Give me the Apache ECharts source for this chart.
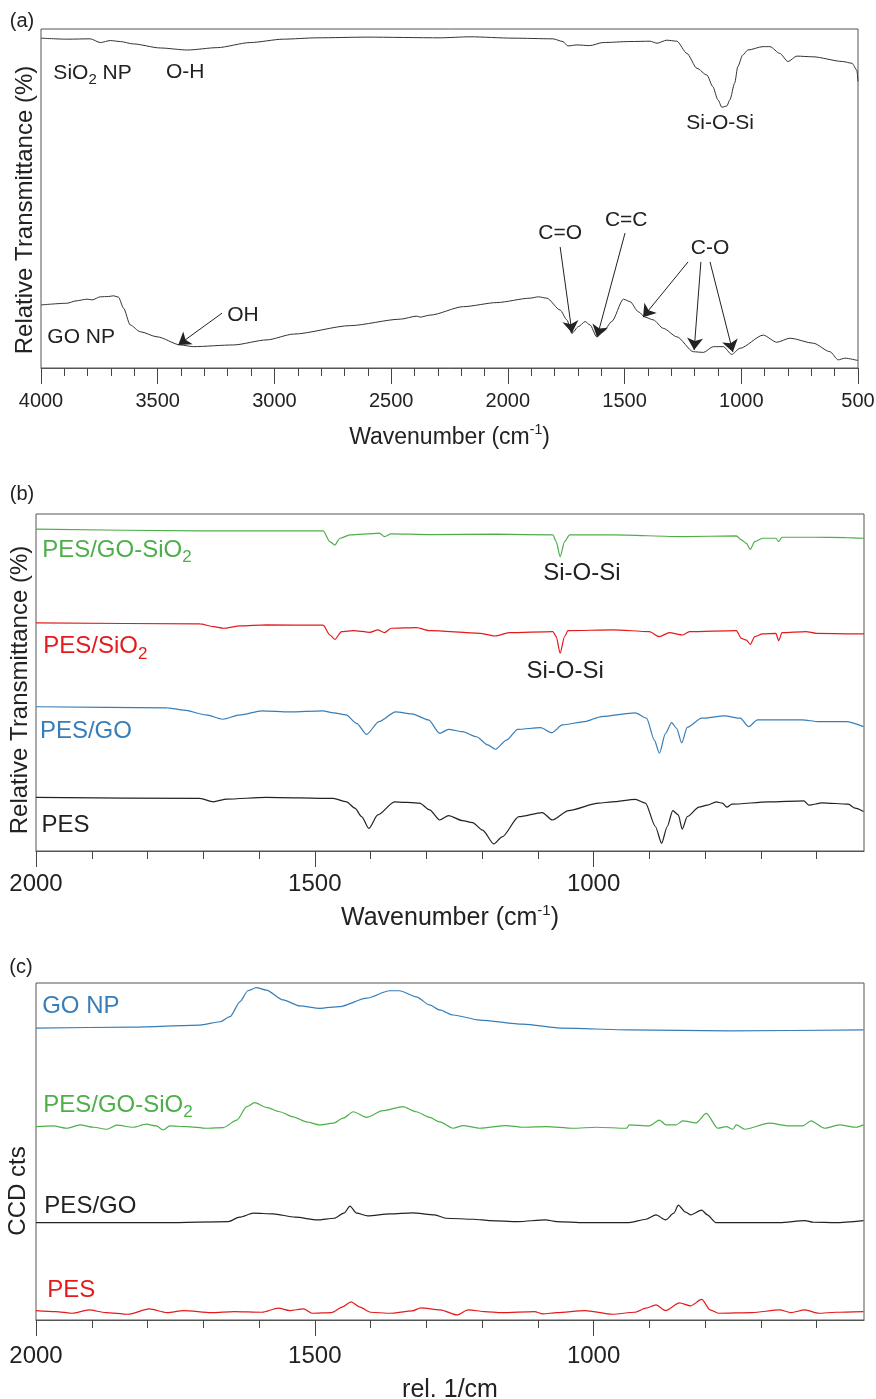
<!DOCTYPE html>
<html><head><meta charset="utf-8">
<script src="https://cdn.jsdelivr.net/npm/echarts@6/dist/echarts.min.js"></script>
<style>html,body{margin:0;padding:0;background:#fff}#c{width:876px;height:1399px}</style>
</head><body><div id="c"></div>
<script>
// ---------- Panel (a): FTIR of nanoparticles  [wavenumber, relative transmittance] ----------
const sio2NP_FTIR = [[4000,97.3],[3889,97.0],[3789,97.1],[3746,96.0],[3703,96.6],[3660,96.3],[3605,95.6],[3489,94.4],[3373,93.8],[3245,94.5],[3104,96.0],[2962,97.0],[2817,97.4],[2603,97.6],[2290,97.4],[2162,97.7],[1978,97.3],[1807,97.1],[1764,96.3],[1743,95.0],[1704,95.3],[1649,95.1],[1593,96.0],[1477,96.3],[1391,96.4],[1361,95.8],[1319,96.7],[1276,96.4],[1233,92.8],[1190,88.4],[1147,86.4],[1122,83.0],[1100,79.1],[1083,76.9],[1062,77.3],[1049,79.1],[1028,84.1],[1015,88.9],[994,92.3],[972,93.8],[907,94.8],[877,94.8],[835,92.8],[800,90.4],[762,92.0],[693,91.8],[565,90.4],[526,89.9],[505,87.9],[500,84.5]];
const goNP_FTIR = [[4000,18.6],[3889,19.1],[3850,19.8],[3803,20.3],[3780,20.1],[3746,21.0],[3710,21.1],[3689,21.3],[3668,20.9],[3646,17.6],[3618,12.7],[3575,10.7],[3503,9.2],[3403,6.8],[3347,6.3],[3175,6.8],[3032,8.3],[2918,10.0],[2675,12.5],[2461,14.4],[2390,15.3],[2376,15.0],[2333,15.6],[2190,18.1],[2047,19.3],[1905,20.6],[1869,21.0],[1833,20.6],[1776,17.1],[1747,14.2],[1726,10.2],[1698,12.2],[1669,13.7],[1648,12.7],[1619,9.2],[1591,10.7],[1555,13.7],[1505,20.3],[1477,19.6],[1441,16.6],[1412,15.0],[1377,14.2],[1334,11.7],[1276,9.2],[1205,4.8],[1162,4.6],[1120,6.3],[1077,6.3],[1041,4.0],[1006,5.8],[906,9.7],[848,7.6],[791,8.8],[691,7.3],[620,4.8],[585,2.4],[556,2.9],[500,2.2]];

// ---------- Panel (b): FTIR of membranes ----------
const pesGoSio2_FTIR = [[2000,95.5],[1706,95.0],[1485,95.0],[1473,91.8],[1464,90.8],[1455,92.8],[1437,93.8],[1407,94.1],[1384,94.3],[1375,93.3],[1363,94.1],[1294,93.9],[1174,94.0],[1073,93.8],[1067,91.8],[1060,87.3],[1052,91.8],[1043,93.8],[965,93.8],[840,93.3],[744,93.5],[735,92.3],[726,91.3],[719,89.5],[711,91.8],[697,92.8],[673,92.8],[668,91.8],[662,93.1],[607,93.1],[547,93.0],[515,92.8]];
const pesSio2_FTIR = [[2000,67.7],[1706,67.4],[1682,66.6],[1664,66.1],[1634,66.8],[1587,67.1],[1485,67.0],[1473,64.1],[1464,62.8],[1452,65.1],[1431,65.4],[1401,64.9],[1387,65.6],[1375,64.8],[1363,66.1],[1318,66.3],[1294,65.4],[1204,64.6],[1177,63.8],[1151,64.8],[1073,65.1],[1067,63.6],[1060,58.7],[1052,63.6],[1046,65.4],[965,65.6],[900,65.1],[882,63.6],[864,64.8],[840,64.1],[828,65.1],[744,65.4],[735,63.1],[726,62.6],[719,61.3],[711,63.6],[697,64.4],[673,64.6],[668,62.4],[662,64.8],[619,65.1],[601,64.6],[515,64.4]];
const pesGo_FTIR = [[2000,42.8],[1765,42.5],[1735,41.8],[1695,40.4],[1665,39.1],[1634,40.4],[1595,41.6],[1545,41.3],[1486,41.6],[1466,41.0],[1444,40.4],[1425,37.9],[1407,34.6],[1385,38.4],[1355,41.3],[1326,40.7],[1296,38.9],[1276,34.9],[1260,36.1],[1235,35.4],[1210,33.9],[1190,31.5],[1176,30.2],[1156,32.9],[1136,36.1],[1095,36.6],[1075,35.1],[1056,37.4],[1016,38.4],[986,39.9],[925,41.0],[905,39.4],[891,32.9],[882,29.0],[871,34.9],[860,38.1],[851,36.4],[842,32.1],[832,36.7],[806,39.4],[765,40.1],[737,39.4],[722,36.9],[706,38.9],[626,38.9],[597,38.4],[547,38.4],[516,36.9]];
const pes_FTIR = [[2000,15.9],[1706,15.6],[1682,14.6],[1658,15.4],[1587,15.9],[1467,15.6],[1443,14.6],[1428,12.7],[1416,10.2],[1403,6.7],[1387,10.7],[1357,14.6],[1312,14.2],[1294,12.2],[1276,9.2],[1260,10.5],[1235,9.0],[1217,8.4],[1199,6.2],[1179,2.1],[1164,4.2],[1134,10.2],[1092,11.4],[1074,9.2],[1045,12.0],[991,14.2],[967,14.6],[925,15.3],[907,14.2],[889,7.2],[878,2.3],[868,7.2],[858,12.0],[848,10.7],[841,6.5],[832,10.2],[811,13.0],[796,13.6],[780,14.6],[769,14.2],[761,13.0],[752,13.9],[686,14.6],[623,14.9],[614,13.6],[590,14.3],[543,13.9],[531,12.7],[516,11.7]];

// ---------- Panel (c): Raman  [rel. 1/cm, CCD cts] ----------
const goNP_Raman = [[2000,86.6],[1826,86.9],[1706,87.5],[1670,88.5],[1652,90.0],[1634,94.5],[1620,97.7],[1605,98.6],[1587,97.9],[1557,95.0],[1527,93.2],[1491,92.5],[1455,93.0],[1407,95.5],[1366,97.7],[1348,97.7],[1318,95.9],[1294,93.5],[1276,92.0],[1252,90.5],[1204,89.0],[1127,87.8],[1055,86.6],[936,86.1],[756,85.8],[516,86.1]];
const pesGoSio2_Raman = [[2000,57.4],[1969,57.6],[1945,56.9],[1921,57.9],[1897,57.2],[1873,56.6],[1855,57.8],[1826,57.2],[1802,58.1],[1784,57.6],[1772,56.4],[1760,57.6],[1730,57.4],[1694,56.9],[1664,57.1],[1640,59.3],[1622,63.3],[1608,64.5],[1587,63.1],[1563,61.8],[1539,60.3],[1515,58.8],[1491,57.9],[1467,58.4],[1449,59.9],[1431,61.8],[1407,60.1],[1378,62.1],[1342,63.3],[1318,61.8],[1294,60.1],[1276,58.8],[1252,56.9],[1234,57.7],[1204,56.9],[1157,57.7],[1127,57.2],[1085,57.4],[1037,56.9],[995,57.2],[941,56.9],[936,57.9],[900,57.6],[882,59.3],[870,57.9],[852,57.9],[840,59.1],[816,58.5],[798,61.3],[777,56.9],[762,57.4],[750,56.6],[744,57.9],[729,56.6],[685,58.4],[649,57.6],[625,57.6],[610,59.1],[586,56.9],[559,57.9],[529,57.2],[516,57.9]];
const pesGo_Raman = [[2000,28.9],[1765,28.9],[1655,29.2],[1635,30.5],[1610,31.7],[1575,31.5],[1535,30.5],[1495,29.7],[1465,30.2],[1447,31.8],[1437,33.8],[1425,31.7],[1405,30.9],[1365,31.5],[1325,31.8],[1285,31.2],[1265,30.2],[1215,29.9],[1185,29.5],[1136,29.2],[1086,29.7],[1066,29.2],[1016,28.9],[936,28.9],[906,29.9],[888,31.2],[871,29.7],[856,31.7],[848,34.1],[836,32.1],[826,31.2],[806,32.6],[796,31.2],[781,28.9],[666,28.9],[621,29.5],[606,29.0],[566,28.9],[516,29.5]];
const pes_Raman = [[2000,2.8],[1965,2.5],[1935,2.0],[1905,3.0],[1875,2.2],[1835,1.7],[1797,3.3],[1765,2.2],[1735,2.8],[1685,2.2],[1645,2.5],[1595,2.3],[1565,3.5],[1545,2.8],[1520,3.3],[1505,2.0],[1470,2.2],[1450,3.9],[1435,5.4],[1420,3.9],[1400,2.3],[1365,2.0],[1325,2.7],[1310,3.6],[1275,3.0],[1245,1.5],[1225,3.0],[1195,2.5],[1165,2.2],[1106,2.5],[1091,1.8],[1066,2.2],[1016,2.8],[966,1.7],[926,2.3],[906,3.5],[888,4.5],[871,2.8],[846,5.1],[826,4.2],[806,6.1],[791,3.0],[776,2.0],[716,2.2],[666,3.0],[646,2.2],[621,3.0],[596,2.0],[566,2.3],[516,2.5]];

// ---------- Axes: ranges and ticks ----------
const rangeA = [500, 4000];
const majorTicksA = [4000,3500,3000,2500,2000,1500,1000,500];
const minorTicksA = [4000,3900,3800,3700,3600,3500,3400,3300,3200,3100,3000,2900,2800,2700,2600,2500,2400,2300,2200,2100,2000,1900,1800,1700,1600,1500,1400,1300,1200,1100,1000,900,800,700,600,500];
const rangeBC = [515, 2000];
const majorTicksBC = [2000,1500,1000];
const minorTicksBC = [2000,1900,1800,1700,1600,1500,1400,1300,1200,1100,1000,900,800,700,600];

// ---------- Annotations (data coordinates) ----------
const GREEN = '#4daf4a', RED = '#e41a1c', BLUE = '#377eb8', INK = '#222';
const labelsA = [
  {text:'SiO{s|2} NP', wn:3947, v:87.0, align:'left'},
  {text:'O-H', wn:3382, v:87.3, align:'center'},
  {text:'Si-O-Si', wn:1091, v:72.3, align:'center'},
  {text:'GO NP', wn:3973, v:9.1, align:'left'},
  {text:'OH', wn:3202, v:15.6, align:'left'},
  {text:'C=O', wn:1776, v:39.8, align:'center'},
  {text:'C=C', wn:1493, v:43.7, align:'center'},
  {text:'C-O', wn:1134, v:35.4, align:'center'}
];
const arrowsA = [[3224,16.2,3412,6.8],[1776,35.7,1725,10.3],[1498,39.8,1618,9.1],[1228,31.3,1421,15.0],[1173,31.3,1202,5.3],[1134,31.3,1036,4.7]];
const labelsB = [
  {text:'PES/GO-SiO{s|2}', wn:1989, v:89.3, color:GREEN, align:'left'},
  {text:'Si-O-Si', wn:1021, v:82.4, align:'center'},
  {text:'PES/SiO{s|2}', wn:1987, v:60.6, color:RED, align:'left'},
  {text:'Si-O-Si', wn:1051, v:53.2, align:'center'},
  {text:'PES/GO', wn:1993, v:35.4, color:BLUE, align:'left'},
  {text:'PES', wn:1990, v:7.7, align:'left'}
];
const labelsC = [
  {text:'GO NP', wn:1989, v:93.0, color:BLUE, align:'left'},
  {text:'PES/GO-SiO{s|2}', wn:1987, v:63.8, color:GREEN, align:'left'},
  {text:'PES/GO', wn:1985, v:33.6, align:'left'},
  {text:'PES', wn:1980, v:8.9, color:RED, align:'left'}
];

const FONT = '"Liberation Sans", Arial, Helvetica, sans-serif';
const chart = echarts.init(document.getElementById('c'), null, {renderer:'canvas'});

function xAxes(gi, range, major, minor, labelSize, labelMargin, name, nameSize, nameGap) {
  const tickStyle = {color:'#444', width:1};
  return [{
    gridIndex: gi, type:'value', min: range[0], max: range[1], inverse: true, position:'bottom',
    axisLine:{show:true, onZero:false, lineStyle:{color:'#555', width:1}},
    axisTick:{show:true, customValues: major, length:16, lineStyle: tickStyle},
    axisLabel:{show:true, customValues: major, margin: labelMargin, fontSize: labelSize, color: INK, fontFamily: FONT, formatter: v => String(v)},
    splitLine:{show:false}, minorTick:{show:false},
    name: name, nameLocation:'middle', nameGap: nameGap,
    nameTextStyle:{fontSize: nameSize, color: INK, fontFamily: FONT, lineHeight: 30,
      rich:{sup:{fontSize: Math.round(nameSize*0.6), verticalAlign:'top', lineHeight: 30, color: INK, fontFamily: FONT}}}
  }, {
    gridIndex: gi, type:'value', min: range[0], max: range[1], inverse: true, position:'bottom',
    axisLine:{show:false}, axisTick:{show:true, customValues: minor, length:8, lineStyle: tickStyle},
    axisLabel:{show:false}, splitLine:{show:false}
  }];
}
function yAxis(gi) { return {gridIndex: gi, type:'value', min:0, max:100, show:false}; }
function line(name, data, xi, yi, color, width) {
  return {type:'line', name, data, xAxisIndex: xi, yAxisIndex: yi, showSymbol:false, symbol:'none',
    smooth:0.25, smoothMonotone:'x', lineStyle:{color, width}, itemStyle:{color}, silent:true, animation:false, clip:true};
}
const gridBase = {show:true, borderColor:'#555', borderWidth:1, backgroundColor:'transparent', containLabel:false, outerBoundsMode:'none'};

const goSeries = line('GO NP', goNP_FTIR, 0, 0, '#333', 1);
goSeries.markLine = {
  silent:true, animation:false, symbol:['none','arrow'], symbolSize:12,
  lineStyle:{color:'#222', width:1, type:'solid'}, label:{show:false}, emphasis:{disabled:true},
  data: arrowsA.map(a => [{coord:[a[0], a[1]]}, {coord:[a[2], a[3]]}])
};

const option = {
  animation:false,
  backgroundColor:'#fff',
  textStyle:{fontFamily: FONT},
  grid:[
    Object.assign({left:41, top:29, width:817, height:339}, gridBase),
    Object.assign({left:36, top:514, width:828, height:337}, gridBase),
    Object.assign({left:36, top:983, width:828, height:337}, gridBase)
  ],
  xAxis:[].concat(
    xAxes(0, rangeA, majorTicksA, minorTicksA, 20, 23, 'Wavenumber (cm{sup|-1})', 23, 55),
    xAxes(1, rangeBC, majorTicksBC, minorTicksBC, 24, 21, 'Wavenumber (cm{sup|-1})', 25, 52),
    xAxes(2, rangeBC, majorTicksBC, minorTicksBC, 24, 24, 'rel. 1/cm', 25, 55)
  ),
  yAxis:[yAxis(0), yAxis(1), yAxis(2)],
  series:[
    line('SiO2 NP', sio2NP_FTIR, 0, 0, '#333', 1),
    goSeries,
    line('PES/GO-SiO2', pesGoSio2_FTIR, 2, 1, GREEN, 1.2),
    line('PES/SiO2', pesSio2_FTIR, 2, 1, RED, 1.2),
    line('PES/GO', pesGo_FTIR, 2, 1, BLUE, 1.2),
    line('PES', pes_FTIR, 2, 1, INK, 1.2),
    line('GO NP', goNP_Raman, 4, 2, BLUE, 1.2),
    line('PES/GO-SiO2', pesGoSio2_Raman, 4, 2, GREEN, 1.2),
    line('PES/GO', pesGo_Raman, 4, 2, INK, 1.2),
    line('PES', pes_Raman, 4, 2, RED, 1.2)
  ]
};
chart.setOption(option);

// Text annotations placed through the chart's own coordinate conversion
const graphics = [];
function addLabel(seriesIndex, a, size) {
  const p = chart.convertToPixel({seriesIndex}, [a.wn, a.v]);
  const color = a.color || INK;
  graphics.push({type:'text', x:p[0], y:p[1], silent:true, z:10,
    style:{text:a.text, fill:color, fontSize:size, fontFamily:FONT, align:a.align, verticalAlign:'middle', lineHeight:size+8,
      rich:{s:{fontSize:Math.round(size*0.7), fill:color, fontFamily:FONT, verticalAlign:'bottom', lineHeight:size+8}}}});
}
labelsA.forEach(a => addLabel(0, a, 21));
labelsB.forEach(a => addLabel(2, a, 24));
labelsC.forEach(a => addLabel(6, a, 24));

function addFree(text, x, y, size, rot) {
  graphics.push({type:'text', x, y, rotation: rot || 0, silent:true,
    style:{text, fill:INK, fontSize:size, fontFamily:FONT, align:'center', verticalAlign:'middle'}});
}
addFree('(a)', 22, 21, 20);
addFree('(b)', 22, 494, 20);
addFree('(c)', 21, 967, 20);
addFree('Relative Transmittance (%)', 25, 210, 24, Math.PI/2);
addFree('Relative Transmittance (%)', 20, 690, 24, Math.PI/2);
addFree('CCD cts', 18, 1191, 24, Math.PI/2);

chart.setOption({graphic: graphics});
</script>
</body></html>
